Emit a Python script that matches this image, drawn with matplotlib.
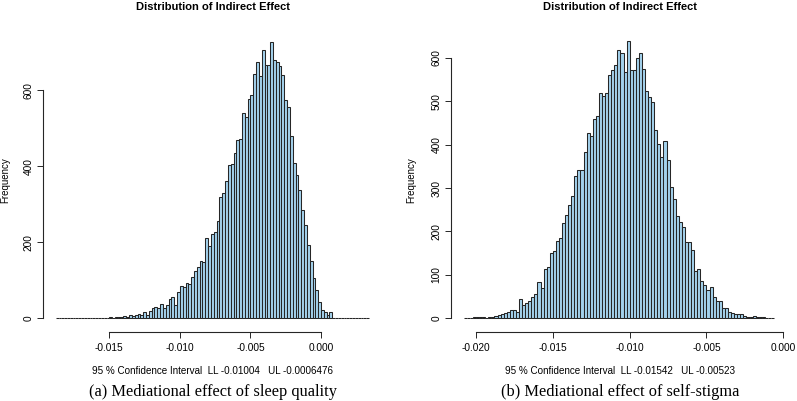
import numpy as np
import matplotlib
matplotlib.use("Agg")
import matplotlib.pyplot as plt

plt.rcParams['font.family'] = ['Liberation Sans', 'DejaVu Sans']

# histogram breaks (R hist, pretty breaks of width 0.0002)
bin_width = 0.0002
left_start = -0.0188
right_start = -0.0208

# (a) sleep quality: counts per bin, left to right
left_counts = [1, 0, 0, 1, 0, 1, 0, 0, 1, 0, 0, 1, 1, 0, 1,
               1, 2, 1, 2, 3, 2, 3,
               3, 4, 5, 4, 8, 5, 9, 12, 8, 17, 10, 18,
               26, 30, 28, 39, 28, 36, 52, 55, 35, 69, 84, 82, 92, 90, 108, 125,
               134, 151, 148, 211, 190, 221, 228, 257,
               320, 331, 362, 403, 406, 434, 469, 471, 539, 531, 576, 587, 644,
               675, 638, 706, 666, 666,
               728,
               681, 675, 664, 640, 574, 556, 479, 409, 378, 337, 284, 246, 193,
               151, 105, 74, 44, 22, 16, 9, 17, 2, 2, 1,
               1, 0, 1, 0, 0, 1, 0, 0, 0, 1]

# (b) self-stigma
right_counts = [1, 0, 1, 2, 2, 3, 4, 1, 2, 4, 5, 7, 10, 12,
                15, 20, 20, 14, 44, 31, 35, 41, 50, 55, 84, 69, 113, 119, 150, 155,
                179, 186, 219, 239, 261, 282, 328, 341, 341, 382, 426, 421,
                458, 467, 518, 513, 520, 560, 572, 583, 619, 612, 568,
                638,
                572, 572, 599, 610, 574, 524, 509, 499, 434, 401, 371, 408,
                364, 303, 275, 236, 222, 211, 176, 176, 157, 110, 113, 87,
                77, 65, 71, 50, 41, 41, 23, 23, 15, 13, 10, 10,
                10, 5, 4, 4, 5, 2, 4, 2, 1, 1, 1]

left_xticks = [-0.015, -0.010, -0.005, 0.000]
left_yticks = [0, 200, 400, 600]
right_xticks = [-0.020, -0.015, -0.010, -0.005, 0.000]
right_yticks = [0, 100, 200, 300, 400, 500, 600]

left_xlabel = "95 % Confidence Interval  LL -0.01004   UL -0.0006476"
right_xlabel = "95 % Confidence Interval  LL -0.01542   UL -0.00523"
left_caption = "(a) Mediational effect of sleep quality"
right_caption = "(b) Mediational effect of self-stigma"

W, H = 797, 401
fig = plt.figure(figsize=(W / 100, H / 100), dpi=100)
dark = '#262626'


def px_rect(x0, x1, ytop, ybot):
    return [x0 / W, 1 - ybot / H, (x1 - x0) / W, (ybot - ytop) / H]


def draw_hist(rect, start, counts, xticks, yticks, xlabel, caption, cx, ylab_x):
    ax = fig.add_axes(rect)
    counts = np.array(counts)
    edges = start + bin_width * np.arange(len(counts) + 1)
    ax.bar(edges[:-1], counts, width=bin_width, align='edge',
           color='#a4d2ec', edgecolor=dark, linewidth=0.75)
    span = edges[-1] - edges[0]
    ax.set_xlim(edges[0] - 0.04 * span, edges[-1] + 0.04 * span)
    ax.set_ylim(-0.04 * counts.max(), 1.04 * counts.max())
    for s in ['top', 'right']:
        ax.spines[s].set_visible(False)
    ax.spines['left'].set_bounds(yticks[0], yticks[-1])
    ax.spines['bottom'].set_bounds(xticks[0], xticks[-1])
    ax.spines['bottom'].set_position(('outward', 2))
    for s in ['left', 'bottom']:
        ax.spines[s].set_color(dark)
        ax.spines[s].set_linewidth(0.8)
    ax.set_xticks(xticks)
    ax.set_xticklabels(['%.3f' % t for t in xticks])
    ax.set_yticks(yticks)
    ax.set_yticklabels([str(t) for t in yticks], rotation=90, va='center')
    ax.tick_params(labelsize=7.3, length=4, width=0.7, color=dark, pad=3)
    ax.tick_params(axis='x', pad=4)
    fig.text(cx / W, 1 - 7 / H, "Distribution of Indirect Effect",
             ha='center', va='center', fontsize=8, fontweight='bold')
    fig.text(cx / W, 1 - 371.5 / H, xlabel, ha='center', va='center', fontsize=7.1)
    fig.text(ylab_x / W, 1 - 180 / H, "Frequency", ha='center', va='center',
             rotation=90, fontsize=7)
    fig.text(cx / W, 1 - 391.5 / H, caption, ha='center', va='center',
             fontsize=11.8, family=['Liberation Serif', 'DejaVu Serif'])
    return ax


draw_hist(px_rect(43.2, 381.5, 30.6, 329.4), left_start, left_counts,
          left_xticks, left_yticks, left_xlabel, left_caption, 213, 5)
draw_hist(px_rect(451.3, 786.5, 30.2, 329.4), right_start, right_counts,
          right_xticks, right_yticks, right_xlabel, right_caption, 620, 411)

fig.savefig('out.png', dpi=100)
plt.close(fig)
